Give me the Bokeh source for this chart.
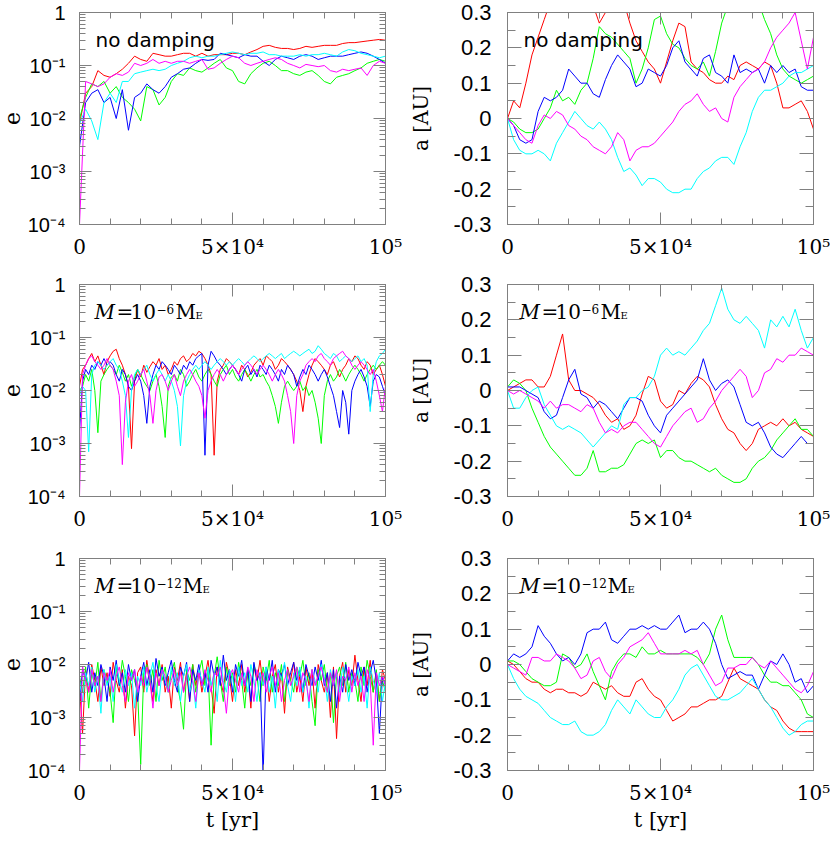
from bokeh.plotting import figure
from bokeh.models import Range1d, FixedTicker, CustomJSTickFormatter, LinearAxis, LogAxis
from bokeh.layouts import column, row
from bokeh.embed import file_html
from bokeh.resources import INLINE
from bokeh.core.properties import value

# ---------------- data ----------------
T_COARSE = list(range(0, 100001, 2000))   # 51 samples
T_FINE = list(range(0, 100001, 1000))     # 101 samples

COLORS = {"red": "#ff0000", "green": "#00ff00", "blue": "#0000ff",
          "cyan": "#00ffff", "magenta": "#ff00ff"}
ORDER = ["red", "green", "blue", "cyan", "magenta"]

# top-left: eccentricity, no damping
E0_RED = [0.008,0.03,0.04,0.08,0.065,0.06,0.07,0.085,0.11,0.15, 0.13,0.12,0.17,0.16,0.15,0.15,0.16,0.17,0.17,0.15,
          0.17,0.15,0.16,0.16,0.16,0.17,0.17,0.16,0.18,0.20, 0.23,0.24,0.22,0.21,0.21,0.20,0.21,0.23,0.22,0.23,
          0.24,0.24,0.24,0.26,0.27,0.27,0.28,0.29,0.30,0.31, 0.30]
E0_GREEN = [0.01,0.025,0.045,0.04,0.05,0.03,0.04,0.025,0.02,0.015, 0.009,0.04,0.035,0.018,0.025,0.05,0.07,0.065,0.09,0.08,
            0.075,0.09,0.11,0.13,0.09,0.08,0.05,0.045,0.07,0.09, 0.11,0.12,0.10,0.08,0.08,0.07,0.065,0.075,0.08,0.065,
            0.05,0.045,0.06,0.065,0.07,0.08,0.09,0.11,0.12,0.13, 0.12]
E0_BLUE = [0.003,0.02,0.03,0.035,0.02,0.025,0.01,0.035,0.006,0.025, 0.03,0.045,0.035,0.03,0.04,0.06,0.07,0.085,0.09,0.11,
           0.13,0.125,0.13,0.17,0.16,0.15,0.14,0.16,0.15,0.15, 0.12,0.10,0.13,0.15,0.14,0.13,0.15,0.16,0.15,0.13,
           0.14,0.15,0.15,0.15,0.16,0.17,0.18,0.17,0.15,0.13, 0.11]
E0_CYAN = [0.008,0.015,0.009,0.004,0.02,0.03,0.02,0.05,0.05,0.07, 0.075,0.08,0.085,0.08,0.085,0.10,0.11,0.12,0.14,0.15,
           0.14,0.15,0.15,0.16,0.17,0.18,0.17,0.16,0.17,0.17, 0.18,0.16,0.16,0.15,0.15,0.15,0.16,0.15,0.16,0.16,
           0.17,0.16,0.15,0.18,0.20,0.19,0.17,0.16,0.15,0.14, 0.15]
E0_MAGENTA = [0.0001,0.05,0.045,0.04,0.045,0.06,0.07,0.065,0.075,0.11, 0.10,0.11,0.13,0.11,0.12,0.11,0.12,0.12,0.11,0.12,
              0.13,0.085,0.09,0.11,0.13,0.15,0.14,0.11,0.10,0.11, 0.12,0.13,0.14,0.13,0.11,0.10,0.09,0.105,0.10,0.095,
              0.10,0.08,0.075,0.085,0.08,0.085,0.09,0.065,0.10,0.12, 0.11]

# top-right: semi-major axis change, no damping
A0_RED = [0.00,0.05,0.03,0.10,0.18,0.23,0.28,0.33,0.37,0.40, 0.42,0.40,0.38,0.36,0.32,0.27,0.30,0.34,0.36,0.33,
          0.27,0.22,0.19,0.16,0.14,0.10,0.16,0.22,0.27,0.26, 0.16,0.14,0.13,0.11,0.10,0.10,0.12,0.11,0.15,0.16,
          0.15,0.14,0.16,0.15,0.10,0.03,0.03,0.04,0.05,0.02, -0.03]
A0_GREEN = [0.00,-0.01,-0.03,-0.04,-0.04,-0.03,0.00,0.03,0.08,0.05, 0.06,0.04,0.08,0.10,0.17,0.26,0.24,0.23,0.21,0.19,
            0.17,0.10,0.14,0.20,0.28,0.29,0.24,0.21,0.20,0.17, 0.15,0.14,0.16,0.12,0.19,0.27,0.32,0.35,0.36,0.37,
            0.36,0.33,0.28,0.24,0.18,0.14,0.12,0.11,0.10,0.11, 0.12]
A0_BLUE = [0.00,-0.02,-0.06,-0.07,-0.06,0.02,0.06,0.05,0.06,0.08, 0.14,0.12,0.10,0.10,0.07,0.06,0.11,0.15,0.18,0.16,
           0.14,0.09,0.10,0.14,0.13,0.12,0.15,0.20,0.22,0.16, 0.14,0.12,0.17,0.18,0.13,0.12,0.10,0.18,0.13,0.14,
           0.13,0.14,0.10,0.15,0.13,0.15,0.13,0.14,0.09,0.08, 0.08]
A0_CYAN = [0.00,-0.06,-0.09,-0.10,-0.10,-0.09,-0.10,-0.12,-0.07,-0.04, -0.01,0.02,0.00,-0.02,-0.03,-0.01,-0.03,-0.06,-0.11,-0.15,
           -0.14,-0.16,-0.19,-0.17,-0.17,-0.18,-0.20,-0.21,-0.21,-0.20, -0.20,-0.17,-0.15,-0.14,-0.12,-0.11,-0.11,-0.13,-0.08,-0.04,
           0.02,0.06,0.08,0.08,0.09,0.10,0.12,0.13,0.13,0.14, 0.15]
A0_MAGENTA = [0.00,-0.02,-0.04,-0.06,-0.07,-0.02,0.01,0.00,0.02,0.01, -0.02,-0.03,-0.05,-0.06,-0.08,-0.09,-0.10,-0.08,-0.04,-0.06,
              -0.12,-0.09,-0.08,-0.08,-0.07,-0.05,-0.03,-0.01,0.02,0.04, 0.05,0.07,0.04,0.02,0.03,0.00,-0.01,0.06,0.09,0.11,
              0.13,0.14,0.16,0.20,0.23,0.25,0.27,0.30,0.22,0.14, 0.23]

# middle-left: eccentricity, M = 1e-6 M_E
E6_RED = [0.012,0.025,0.03,0.04,0.05,0.035,0.045,0.03,0.02,0.035,
          0.045,0.055,0.06,0.04,0.03,0.02,0.012,0.0008,0.015,0.025,
          0.018,0.03,0.022,0.028,0.035,0.03,0.04,0.025,0.03,0.02,
          0.025,0.035,0.03,0.04,0.045,0.035,0.04,0.05,0.045,0.055,
          0.05,0.04,0.03,0.02,0.0006,0.015,0.025,0.03,0.04,0.035,
          0.03,0.025,0.02,0.03,0.025,0.018,0.022,0.03,0.035,0.04,
          0.03,0.045,0.04,0.035,0.025,0.03,0.04,0.035,0.03,0.025,
          0.02,0.015,0.01,0.004,0.012,0.02,0.03,0.04,0.035,0.03,
          0.025,0.02,0.03,0.035,0.025,0.018,0.025,0.03,0.04,0.035,
          0.045,0.04,0.03,0.025,0.035,0.03,0.02,0.025,0.03,0.02,
          0.012]
E6_GREEN = [0.01,0.012,0.02,0.015,0.025,0.01,0.0016,0.015,0.02,0.025,
            0.03,0.025,0.02,0.03,0.022,0.015,0.02,0.012,0.018,0.025,
            0.02,0.015,0.012,0.01,0.015,0.02,0.012,0.005,0.0013,0.012,
            0.018,0.02,0.015,0.025,0.02,0.012,0.015,0.02,0.025,0.018,
            0.015,0.02,0.025,0.02,0.015,0.012,0.02,0.025,0.03,0.02,
            0.025,0.018,0.015,0.02,0.025,0.02,0.015,0.02,0.025,0.018,
            0.02,0.015,0.012,0.008,0.005,0.0024,0.006,0.012,0.015,0.012,
            0.01,0.012,0.015,0.01,0.012,0.008,0.01,0.006,0.003,0.001,
            0.008,0.015,0.02,0.015,0.018,0.025,0.02,0.015,0.02,0.025,
            0.03,0.025,0.02,0.015,0.02,0.025,0.03,0.025,0.03,0.035,
            0.03]
E6_BLUE = [0.0017,0.015,0.025,0.02,0.03,0.025,0.035,0.03,0.04,0.03,
           0.035,0.03,0.02,0.015,0.025,0.02,0.012,0.01,0.015,0.02,
           0.015,0.008,0.0024,0.012,0.02,0.03,0.025,0.035,0.03,0.025,
           0.02,0.03,0.025,0.02,0.03,0.025,0.035,0.03,0.04,0.045,
           0.05,0.0006,0.03,0.055,0.045,0.035,0.03,0.025,0.02,0.025,
           0.03,0.025,0.02,0.015,0.025,0.03,0.02,0.025,0.018,0.03,
           0.025,0.02,0.03,0.025,0.02,0.015,0.025,0.02,0.03,0.025,
           0.02,0.012,0.018,0.025,0.02,0.03,0.025,0.02,0.015,0.02,
           0.025,0.018,0.012,0.008,0.004,0.002,0.01,0.006,0.0015,0.01,
           0.015,0.02,0.025,0.018,0.012,0.005,0.015,0.02,0.018,0.012,
           0.008]
E6_CYAN = [0.008,0.012,0.01,0.0007,0.02,0.03,0.035,0.03,0.025,0.03,
           0.035,0.04,0.03,0.025,0.015,0.008,0.0013,0.01,0.02,0.025,
           0.02,0.025,0.03,0.02,0.015,0.02,0.025,0.02,0.015,0.02,
           0.015,0.01,0.005,0.0009,0.008,0.015,0.02,0.025,0.03,0.025,
           0.03,0.035,0.03,0.025,0.03,0.035,0.04,0.035,0.03,0.035,
           0.03,0.035,0.04,0.035,0.03,0.035,0.04,0.045,0.04,0.035,
           0.04,0.045,0.05,0.045,0.04,0.045,0.05,0.04,0.045,0.05,
           0.055,0.05,0.045,0.05,0.055,0.06,0.05,0.055,0.07,0.06,
           0.05,0.045,0.04,0.05,0.045,0.035,0.04,0.045,0.04,0.035,
           0.04,0.045,0.035,0.04,0.03,0.004,0.02,0.035,0.045,0.05,
           0.06]
E6_MAGENTA = [0.0001,0.02,0.03,0.04,0.045,0.035,0.03,0.025,0.03,0.04,
              0.03,0.025,0.015,0.008,0.0004,0.006,0.015,0.02,0.012,0.015,
              0.02,0.025,0.015,0.008,0.0024,0.01,0.018,0.02,0.015,0.01,
              0.015,0.02,0.012,0.008,0.015,0.02,0.025,0.02,0.015,0.012,
              0.008,0.003,0.01,0.015,0.02,0.025,0.02,0.015,0.02,0.025,
              0.03,0.025,0.02,0.025,0.03,0.035,0.03,0.025,0.02,0.025,
              0.03,0.025,0.02,0.015,0.02,0.025,0.02,0.015,0.008,0.004,
              0.001,0.008,0.015,0.02,0.03,0.035,0.04,0.035,0.045,0.05,
              0.04,0.035,0.03,0.04,0.045,0.05,0.055,0.045,0.04,0.03,
              0.025,0.03,0.035,0.03,0.025,0.02,0.025,0.015,0.008,0.004,
              0.012]

# middle-right: semi-major axis change, M = 1e-6 M_E
A6_RED = [0.00,0.01,0.02,0.03,0.03,0.01,0.01,0.04,0.10,0.16, 0.03,0.00,0.00,-0.01,-0.02,-0.04,-0.07,-0.09,-0.08,-0.11,
          -0.10,-0.07,-0.01,0.04,0.03,-0.03,-0.05,-0.04,0.00,-0.01, 0.02,0.04,0.03,0.01,-0.04,-0.08,-0.11,-0.12,-0.15,-0.17,
          -0.15,-0.11,-0.10,-0.09,-0.10,-0.08,-0.10,-0.09,-0.11,-0.12, -0.13]
A6_GREEN = [0.01,0.03,0.02,0.00,-0.05,-0.09,-0.13,-0.16,-0.18,-0.20, -0.22,-0.24,-0.24,-0.22,-0.17,-0.23,-0.23,-0.22,-0.22,-0.21,
            -0.18,-0.15,-0.14,-0.15,-0.14,-0.19,-0.17,-0.17,-0.19,-0.20, -0.20,-0.21,-0.22,-0.23,-0.22,-0.24,-0.25,-0.26,-0.26,-0.25,
            -0.22,-0.20,-0.19,-0.17,-0.14,-0.12,-0.10,-0.08,-0.11,-0.11, -0.13]
A6_BLUE = [0.01,0.01,0.01,0.00,-0.01,-0.02,-0.06,-0.08,-0.07,-0.02, 0.03,0.06,-0.01,-0.02,-0.05,-0.03,-0.04,-0.06,-0.08,-0.05,
           -0.02,-0.02,-0.03,-0.07,-0.10,-0.12,-0.07,-0.05,-0.03,-0.01, 0.01,0.03,0.09,0.03,0.00,0.02,0.03,0.01,-0.04,-0.09,
           -0.10,-0.09,-0.12,-0.16,-0.18,-0.19,-0.17,-0.15,-0.13,-0.15, -0.15]
A6_CYAN = [0.00,-0.05,-0.05,-0.02,0.00,0.01,-0.04,-0.07,-0.10,-0.11, -0.10,-0.11,-0.12,-0.14,-0.16,-0.14,-0.12,-0.10,-0.11,-0.04,
           -0.02,-0.02,0.00,0.01,0.04,0.10,0.12,0.10,0.11,0.10, 0.12,0.14,0.17,0.19,0.24,0.29,0.23,0.20,0.19,0.21,
           0.19,0.17,0.12,0.20,0.18,0.21,0.18,0.23,0.17,0.12, 0.15]
A6_MAGENTA = [0.00,-0.01,0.00,-0.01,-0.02,-0.03,-0.05,-0.03,-0.05,-0.04, -0.04,-0.05,-0.06,-0.04,-0.05,-0.09,-0.12,-0.11,-0.12,-0.10,
              -0.09,-0.09,-0.11,-0.13,-0.15,-0.16,-0.13,-0.10,-0.08,-0.06, -0.05,-0.09,-0.08,-0.05,-0.03,0.00,0.02,0.04,0.06,0.04,
              -0.02,0.00,0.05,0.06,0.09,0.08,0.10,0.10,0.12,0.11, 0.10]

# bottom-left: eccentricity, M = 1e-12 M_E
E12_RED = [0.004,0.0005,0.008,0.003,0.01,0.005,0.002,0.009,0.004,0.007,
           0.0025,0.011,0.005,0.003,0.008,0.0015,0.006,0.004,0.00045,0.007,
           0.009,0.003,0.012,0.005,0.002,0.008,0.004,0.01,0.003,0.006,
           0.0015,0.009,0.005,0.011,0.003,0.007,0.002,0.01,0.004,0.008,
           0.003,0.006,0.012,0.004,0.0012,0.009,0.005,0.003,0.011,0.006,
           0.002,0.008,0.004,0.01,0.003,0.007,0.0015,0.009,0.005,0.012,
           0.004,0.008,0.002,0.006,0.01,0.003,0.007,0.0012,0.009,0.005,
           0.011,0.003,0.006,0.002,0.009,0.004,0.008,0.0015,0.01,0.005,
           0.003,0.007,0.001,0.009,0.0004,0.006,0.011,0.003,0.008,0.004,
           0.015,0.005,0.002,0.009,0.004,0.012,0.003,0.007,0.002,0.008,
           0.005]
E12_GREEN = [0.006,0.003,0.009,0.0015,0.007,0.004,0.011,0.002,0.008,0.005,
             0.003,0.0008,0.009,0.004,0.012,0.006,0.002,0.008,0.005,0.003,
             0.00013,0.007,0.01,0.004,0.008,0.002,0.012,0.005,0.009,0.003,
             0.007,0.011,0.004,0.002,0.0006,0.008,0.005,0.01,0.003,0.007,
             0.012,0.004,0.008,0.0003,0.006,0.014,0.005,0.002,0.009,0.004,
             0.007,0.003,0.011,0.005,0.0015,0.008,0.004,0.01,0.006,0.002,
             0.009,0.005,0.012,0.003,0.007,0.004,0.01,0.002,0.008,0.005,
             0.003,0.009,0.006,0.012,0.004,0.007,0.002,0.0007,0.008,0.005,
             0.01,0.003,0.007,0.0008,0.006,0.009,0.004,0.011,0.003,0.007,
             0.005,0.002,0.009,0.004,0.012,0.006,0.003,0.008,0.002,0.005,
             0.003]
E12_BLUE = [0.002,0.008,0.005,0.011,0.003,0.007,0.004,0.01,0.006,0.002,
            0.009,0.005,0.012,0.004,0.007,0.003,0.01,0.005,0.008,0.002,
            0.006,0.011,0.004,0.008,0.003,0.013,0.006,0.009,0.004,0.007,
            0.012,0.005,0.003,0.009,0.006,0.011,0.002,0.008,0.005,0.01,
            0.004,0.007,0.003,0.012,0.006,0.009,0.004,0.015,0.005,0.008,
            0.003,0.01,0.006,0.012,0.004,0.008,0.002,0.011,0.005,0.007,
            0.00008,0.009,0.005,0.012,0.003,0.008,0.006,0.01,0.004,0.007,
            0.011,0.005,0.008,0.003,0.01,0.006,0.004,0.009,0.005,0.012,
            0.004,0.007,0.002,0.008,0.0015,0.006,0.003,0.01,0.005,0.008,
            0.004,0.011,0.006,0.009,0.003,0.007,0.012,0.005,0.0005,0.006,
            0.004]
E12_CYAN = [0.005,0.002,0.007,0.004,0.009,0.003,0.006,0.0012,0.008,0.004,
            0.006,0.002,0.01,0.005,0.003,0.008,0.004,0.007,0.0015,0.006,
            0.004,0.009,0.003,0.006,0.011,0.004,0.002,0.008,0.005,0.003,
            0.009,0.004,0.007,0.002,0.006,0.01,0.003,0.005,0.0015,0.008,
            0.005,0.003,0.009,0.004,0.007,0.002,0.012,0.005,0.003,0.008,
            0.006,0.002,0.009,0.004,0.007,0.003,0.01,0.005,0.002,0.007,
            0.004,0.009,0.003,0.006,0.0015,0.008,0.005,0.011,0.004,0.002,
            0.007,0.004,0.009,0.003,0.006,0.0015,0.008,0.005,0.003,0.01,
            0.006,0.002,0.008,0.004,0.007,0.003,0.009,0.005,0.002,0.006,
            0.004,0.008,0.003,0.006,0.0015,0.009,0.005,0.003,0.007,0.002,
            0.005]
E12_MAGENTA = [0.0001,0.009,0.005,0.003,0.008,0.004,0.006,0.002,0.007,0.005,
               0.008,0.003,0.006,0.009,0.004,0.002,0.007,0.005,0.008,0.003,
               0.006,0.004,0.009,0.005,0.0015,0.007,0.004,0.008,0.006,0.003,
               0.005,0.008,0.004,0.007,0.003,0.006,0.009,0.005,0.002,0.007,
               0.004,0.008,0.005,0.003,0.007,0.006,0.009,0.004,0.0012,0.006,
               0.008,0.005,0.003,0.007,0.004,0.009,0.006,0.002,0.008,0.005,
               0.007,0.003,0.006,0.009,0.004,0.007,0.002,0.005,0.008,0.004,
               0.006,0.009,0.003,0.007,0.005,0.002,0.008,0.004,0.006,0.009,
               0.005,0.003,0.007,0.004,0.008,0.002,0.006,0.005,0.009,0.003,
               0.007,0.004,0.006,0.002,0.008,0.005,0.0003,0.007,0.004,0.006,
               0.004]

# bottom-right: semi-major axis change, M = 1e-12 M_E
A12_RED = [0.01,0.00,-0.02,-0.04,-0.05,-0.05,-0.07,-0.08,-0.07,-0.07, -0.08,-0.08,-0.09,-0.08,-0.05,-0.06,-0.07,-0.06,-0.08,-0.09,
           -0.09,-0.05,-0.04,-0.07,-0.09,-0.10,-0.13,-0.16,-0.15,-0.14, -0.12,-0.12,-0.11,-0.10,-0.10,-0.09,-0.05,-0.01,-0.04,-0.05,
           -0.06,-0.07,-0.10,-0.12,-0.13,-0.16,-0.18,-0.19,-0.19,-0.19, -0.19]
A12_GREEN = [0.01,0.01,0.00,-0.02,-0.04,-0.05,-0.06,-0.06,-0.05,0.03, 0.02,-0.01,0.00,0.03,-0.02,-0.06,-0.10,-0.02,0.01,0.03,
             0.03,0.02,0.05,0.03,0.03,0.04,0.03,0.03,0.03,0.03, 0.03,0.02,0.00,0.03,0.10,0.14,0.07,0.02,0.02,0.02,
             0.02,0.00,-0.03,-0.05,-0.05,-0.06,-0.06,-0.08,-0.10,-0.14, -0.15]
A12_BLUE = [0.01,0.03,0.02,0.03,0.05,0.11,0.08,0.06,0.03,0.01, 0.02,0.00,0.03,0.09,0.10,0.10,0.12,0.07,0.06,0.08,
            0.10,0.10,0.11,0.10,0.11,0.10,0.10,0.12,0.14,0.09, 0.10,0.10,0.12,0.10,0.06,0.00,-0.04,-0.03,-0.02,-0.03,
            -0.03,-0.07,-0.03,0.01,0.00,0.03,0.00,-0.05,-0.04,-0.08, -0.06]
A12_CYAN = [0.00,-0.04,-0.07,-0.09,-0.10,-0.11,-0.13,-0.15,-0.16,-0.17, -0.17,-0.16,-0.19,-0.20,-0.20,-0.19,-0.17,-0.13,-0.10,-0.12,
            -0.14,-0.10,-0.12,-0.14,-0.15,-0.15,-0.12,-0.10,-0.07,-0.03, -0.01,0.00,-0.03,-0.06,-0.09,-0.10,-0.10,-0.09,-0.08,-0.06,
            -0.04,-0.07,-0.10,-0.12,-0.15,-0.18,-0.20,-0.19,-0.17,-0.16, -0.16]
A12_MAGENTA = [0.00,-0.01,-0.02,-0.03,0.02,0.02,0.01,0.01,0.03,0.02, 0.01,-0.01,-0.04,-0.03,0.01,0.02,-0.02,-0.04,0.00,0.02,
               0.05,0.06,0.07,0.09,0.06,0.03,0.03,0.03,0.03,0.04, 0.03,0.04,0.00,-0.03,-0.06,-0.05,-0.01,-0.01,0.00,0.00,
               0.02,0.00,-0.01,0.01,-0.01,-0.03,-0.05,-0.07,-0.08,-0.06, -0.02]

X_TICKS = [0, 50000, 100000]
X_MINOR = [10000, 20000, 30000, 40000, 60000, 70000, 80000, 90000]
E_TICKS = [1e-4, 1e-3, 1e-2, 1e-1, 1.0]
E_MINOR = [k * 10.0 ** d for d in range(-4, 0) for k in range(2, 10)]
A_TICKS = [-0.3, -0.2, -0.1, 0.0, 0.1, 0.2, 0.3]
A_MINOR = [-0.25, -0.15, -0.05, 0.05, 0.15, 0.25]

# ---------------- styling ----------------
GREY = "#808080"
FRAME_W, FRAME_H = 306, 212

X_FMT = CustomJSTickFormatter(code="""
if (Math.abs(tick) < 1) return "0";
if (Math.abs(tick - 50000) < 1) return "5\u00d710\u2074";
if (Math.abs(tick - 100000) < 1) return "10\u2075";
return "";
""")
E_FMT = CustomJSTickFormatter(code="""
const p = Math.round(Math.log10(tick));
if (p === 0) return "1";
const sup = {"-": "\u207b", "0": "\u2070", "1": "\u00b9", "2": "\u00b2", "3": "\u00b3", "4": "\u2074"};
let s = "10";
for (const c of String(p)) s += sup[c];
return s;
""")
A_FMT = CustomJSTickFormatter(code="""
if (Math.abs(tick) < 1e-9) return "0";
return tick.toFixed(1);
""")
BLANK = CustomJSTickFormatter(code='return "";')


def style_axis(ax, major, minor):
    ax.major_tick_in = major
    ax.major_tick_out = 0
    ax.minor_tick_in = minor
    ax.minor_tick_out = 0
    ax.axis_line_color = GREY
    ax.major_tick_line_color = GREY
    ax.minor_tick_line_color = GREY
    ax.major_label_text_color = "black"
    ax.axis_label_text_color = "black"


def add_texts(p, log, pieces):
    for s, dx, dy, font, size, style in pieces:
        x = dx / FRAME_W * 100000
        y = 10 ** (-4 * dy / FRAME_H) if log else 0.3 - 0.6 * dy / FRAME_H
        p.text(x=[x], y=[y], text=[s], text_font=value(font), text_font_size=value(size),
               text_font_style=value(style), text_color="black",
               text_baseline="alphabetic", text_align="left")


def mass_label(b, exp):
    extra = 0 if len(exp) == 1 else 7
    return [("M", b, 27.3, "DejaVu Serif", "20px", "italic"),
            ("=", b + 22, 27.3, "DejaVu Serif", "20px", "normal"),
            ("10", b + 36, 27.3, "DejaVu Serif", "20px", "normal"),
            ("\u2212" + exp, b + 62, 24, "DejaVu Serif", "12px", "normal"),
            ("M", b + 81 + extra, 27.3, "DejaVu Serif", "20px", "normal"),
            ("E", b + 101 + extra, 30.6, "DejaVu Serif", "10px", "normal")]


# (top border, bottom border) per row
ROW_BORDERS = [(12, 46), (14, 48), (14, 64)]


def make_panel(kind, t, series, col, rowi, pieces):
    log = kind == "e"
    bt, bb = ROW_BORDERS[rowi]
    p = figure(frame_width=FRAME_W, frame_height=FRAME_H,
               output_backend="svg", toolbar_location=None,
               x_range=Range1d(0, 100000),
               y_range=Range1d(1e-4, 1.0) if log else Range1d(-0.3, 0.3),
               y_axis_type="log" if log else "linear",
               min_border_left=77 if col == 0 else 102,
               min_border_right=20 if col == 0 else 17,
               min_border_top=bt, min_border_bottom=bb)
    p.grid.visible = False
    p.outline_line_color = GREY
    p.background_fill_color = "white"
    p.border_fill_color = "white"

    xt = FixedTicker(ticks=X_TICKS, minor_ticks=X_MINOR)
    xa = p.xaxis[0]
    xa.ticker = xt
    xa.formatter = X_FMT
    style_axis(xa, 12, 6)
    xa.major_label_text_font = "DejaVu Serif"
    xa.major_label_text_font_size = "20px"
    xa.major_label_standoff = 10
    if rowi == 2:
        xa.axis_label = "t [yr]"
        xa.axis_label_text_font = "DejaVu Serif"
        xa.axis_label_text_font_size = "21px"
        xa.axis_label_text_font_style = "normal"
        xa.axis_label_standoff = 0
    top = LinearAxis(ticker=xt, formatter=BLANK, major_label_text_font_size="0px",
                     major_label_standoff=0)
    style_axis(top, 12, 6)
    p.add_layout(top, "above")

    ya = p.yaxis[0]
    if log:
        yt = FixedTicker(ticks=E_TICKS, minor_ticks=E_MINOR)
        ya.formatter = E_FMT
        ya.major_label_text_font = "Liberation Sans"
        ya.major_label_text_font_size = "20px"
        ya.major_label_standoff = 14
        ya.axis_label = "e"
        ya.axis_label_text_font_size = "22px"
        ya.axis_label_standoff = 5
        maj, mnr = 12, 6
    else:
        yt = FixedTicker(ticks=A_TICKS, minor_ticks=A_MINOR)
        ya.formatter = A_FMT
        ya.major_label_text_font = "Liberation Sans"
        ya.major_label_text_font_size = "22px"
        ya.major_label_standoff = 16
        ya.axis_label = "a [AU]"
        ya.axis_label_text_font_size = "20px"
        ya.axis_label_standoff = 18
        maj, mnr = 14, 8
    ya.ticker = yt
    ya.axis_label_text_font = "DejaVu Serif"
    ya.axis_label_text_font_style = "normal"
    style_axis(ya, maj, mnr)
    right_cls = LogAxis if log else LinearAxis
    right = right_cls(ticker=yt, formatter=BLANK, major_label_text_font_size="0px",
                      major_label_standoff=0)
    style_axis(right, maj, mnr)
    p.add_layout(right, "right")

    for name in ORDER:
        p.line(t, series[name], line_color=COLORS[name], line_width=1)

    add_texts(p, log, pieces)
    return p


def pack(r, g, b, c, m):
    return {"red": r, "green": g, "blue": b, "cyan": c, "magenta": m}


NO_DAMP = [("no damping", 16, 27, "DejaVu Sans", "20px", "normal")]

p1 = make_panel("e", T_COARSE, pack(E0_RED, E0_GREEN, E0_BLUE, E0_CYAN, E0_MAGENTA), 0, 0, NO_DAMP)
p2 = make_panel("a", T_COARSE, pack(A0_RED, A0_GREEN, A0_BLUE, A0_CYAN, A0_MAGENTA), 1, 0, NO_DAMP)
p3 = make_panel("e", T_FINE, pack(E6_RED, E6_GREEN, E6_BLUE, E6_CYAN, E6_MAGENTA), 0, 1, mass_label(15, "6"))
p4 = make_panel("a", T_COARSE, pack(A6_RED, A6_GREEN, A6_BLUE, A6_CYAN, A6_MAGENTA), 1, 1, mass_label(12, "6"))
p5 = make_panel("e", T_FINE, pack(E12_RED, E12_GREEN, E12_BLUE, E12_CYAN, E12_MAGENTA), 0, 2, mass_label(15, "12"))
p6 = make_panel("a", T_COARSE, pack(A12_RED, A12_GREEN, A12_BLUE, A12_CYAN, A12_MAGENTA), 1, 2, mass_label(12, "12"))

layout = column(row(p1, p2), row(p3, p4), row(p5, p6))
open("out.html", "w").write(file_html(layout, INLINE))
